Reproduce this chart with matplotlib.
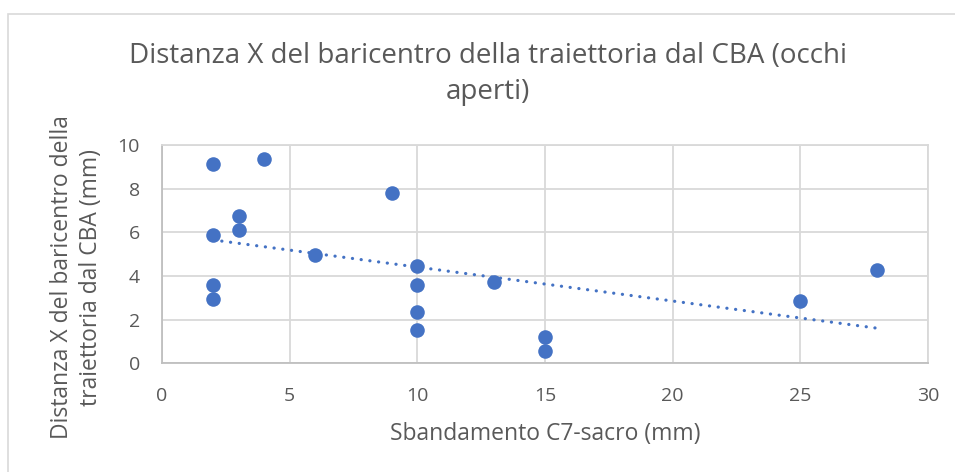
import numpy as np
import matplotlib.pyplot as plt
from matplotlib.patches import Rectangle

# sbandamento C7-sacro (mm) vs distanza X del baricentro (mm)
sbandamento = [2, 4, 9, 3, 3, 2, 6, 10, 2, 2, 10, 13, 10, 10, 15, 15, 25, 28]
distanza_x = [9.14, 9.34, 7.80, 6.75, 6.10, 5.88, 4.95, 4.47, 3.57, 2.96,
              3.57, 3.74, 2.36, 1.53, 1.19, 0.58, 2.85, 4.27]

x_ticks = [0, 5, 10, 15, 20, 25, 30]
y_ticks = [0, 2, 4, 6, 8, 10]

blue = '#4472C4'
grid_col = '#D9D9D9'
text_col = '#595959'
font = ['Open Sans', 'DejaVu Sans']

plt.rcParams['font.family'] = font

fig = plt.figure(figsize=(9.55, 4.72), dpi=100)
ax = fig.add_axes([162 / 955, 1 - 363.3 / 472, 766 / 955, 218.3 / 472])

# chart frame
fig.patches.append(Rectangle((8 / 955, -0.1), 1.2, 1 - 13.5 / 472 + 0.1,
                             transform=fig.transFigure, fill=False,
                             edgecolor='#D9D9D9', linewidth=1.2))

ax.scatter(sbandamento, distanza_x, s=110, color=blue, zorder=3, linewidths=0)

# linear trendline
xs = np.array(sbandamento, dtype=float)
ys = np.array(distanza_x, dtype=float)
m, q = np.polyfit(xs, ys, 1)
xt = np.array([xs.min(), xs.max()])
ax.plot(xt, m * xt + q, linestyle=(0, (0.05, 2.7)), color=blue, linewidth=2.3,
        dash_capstyle='round', zorder=2)

ax.set_xlim(0, 30)
ax.set_ylim(0, 10)
ax.set_xticks(x_ticks)
ax.set_yticks(y_ticks)
ax.grid(True, color=grid_col, linewidth=1.3)
ax.set_axisbelow(True)
for s in ax.spines.values():
    s.set_color(grid_col)
    s.set_linewidth(1.3)
ax.spines['left'].set_color('#BFBFBF')
ax.spines['bottom'].set_color('#BFBFBF')
ax.tick_params(length=0, labelsize=14, colors=text_col)
ax.tick_params(axis='x', pad=17)
ax.tick_params(axis='y', pad=16)

ax.set_xlabel('Sbandamento C7-sacro (mm)', fontsize=16.5, color=text_col)
ax.xaxis.set_label_coords(0.5, -0.27)
ax.set_ylabel('Distanza X del baricentro della\ntraiettoria dal CBA (mm)',
              fontsize=16.5, color=text_col, linespacing=1.27)
ax.yaxis.set_label_coords(-0.077, 0.395)

fig.text(0.511, 1 - 74 / 472, 'Distanza X del baricentro della traiettoria dal CBA (occhi\naperti)',
         ha='center', va='center', fontsize=20, color=text_col,
         linespacing=1.34)

fig.savefig('out.png', dpi=100)
